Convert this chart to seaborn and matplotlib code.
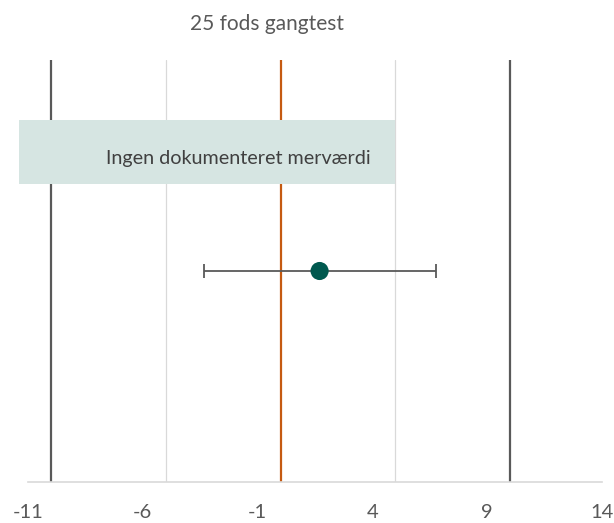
import matplotlib
matplotlib.use("Agg")
import matplotlib.pyplot as plt
import seaborn as sns
import pandas as pd

# Values
title = "25 fods gangtest"
estimate = [1.7]
ci_lower = [-3.35]
ci_upper = [6.75]
reference_lines = [-10, -5, 0, 5, 10]
xticks = [-11, -6, -1, 4, 9, 14]
zone_start = -11.4
zone_end = 5.0
zone_label = "Ingen dokumenteret merværdi"

sns.set_theme(style="white")
plt.rcParams["font.family"] = ["Lato", "DejaVu Sans"]

fig = plt.figure(figsize=(6.14, 5.23), dpi=100)
ax = fig.add_axes([28 / 614, (523 - 482) / 523, (602 - 28) / 614, (482 - 60) / 523])

line_styles = {
    -10: dict(color="#595959", lw=1.6),
    -5: dict(color="#d9d9d9", lw=0.9),
    0: dict(color="#C55A11", lw=1.6),
    5: dict(color="#d9d9d9", lw=0.9),
    10: dict(color="#595959", lw=1.6),
}
for x in reference_lines:
    ax.axvline(x, zorder=1, **line_styles[x])

# Shaded zone
ax.add_patch(plt.Rectangle((zone_start, 0.707), zone_end - zone_start, 0.152,
                           facecolor="#D6E5E2", edgecolor="none", zorder=2, clip_on=False))
ax.text(-1.85, 0.767, zone_label, ha="center", va="center", fontsize=14.2,
        color="#404040", zorder=3)

df = pd.DataFrame({"estimate": estimate, "lo": ci_lower, "hi": ci_upper, "y": [0.5]})
ax.errorbar(df["estimate"], df["y"],
            xerr=[df["estimate"] - df["lo"], df["hi"] - df["estimate"]],
            fmt="none", ecolor="#595959", elinewidth=1.3, capsize=5, capthick=1.3, zorder=4)
sns.scatterplot(data=df, x="estimate", y="y", ax=ax, s=170, color="#00594F",
                edgecolor="none", zorder=5, legend=False)

ax.set_xlim(-11, 14)
ax.set_ylim(0, 1)
ax.set_xticks(xticks)
ax.set_xticklabels([str(t) for t in xticks], fontsize=14.5, color="#595959")
ax.tick_params(axis="x", length=0, pad=16)
ax.set_yticks([])
ax.set_xlabel("")
ax.set_ylabel("")
for side in ["top", "left", "right"]:
    ax.spines[side].set_visible(False)
ax.spines["bottom"].set_color("#d9d9d9")
ax.spines["bottom"].set_linewidth(1.2)

fig.text(267 / 614, 1 - 24 / 523, title, ha="center", va="center", fontsize=15, color="#595959")

fig.savefig("out.png", dpi=100)
